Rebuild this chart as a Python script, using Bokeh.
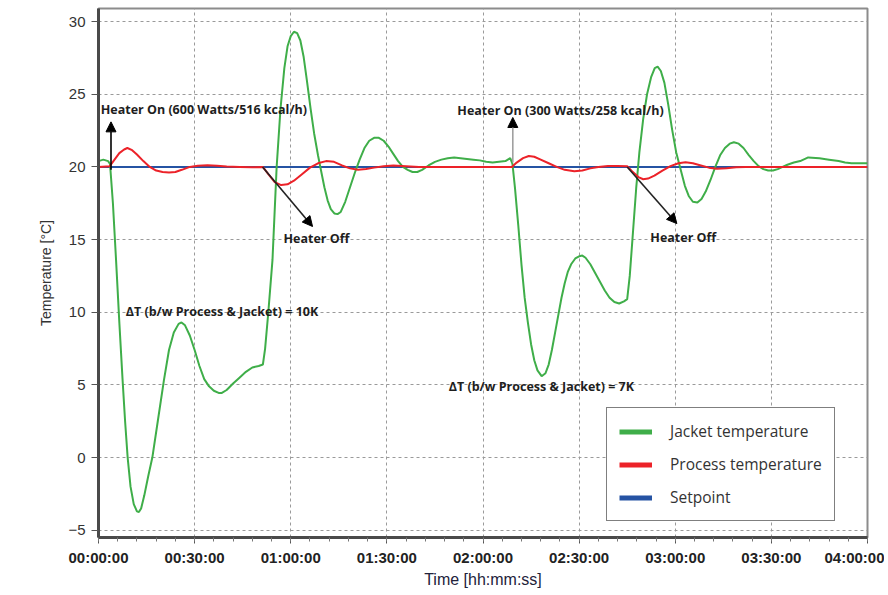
from bokeh.plotting import figure
from bokeh.models import (Range1d, FixedTicker, Arrow, NormalHead, Label, Legend, LegendItem)
from bokeh.embed import file_html
from bokeh.resources import INLINE

# ---------------- data (time in minutes, temperature in °C) ----------------
jacket_time = [0, 1.5, 3.0, 3.6, 4.5, 5.5, 6.5, 7.5, 8.3, 9.1, 10.0, 11.0, 12.0, 12.6, 13.3, 14.3,
               15.5, 16.8, 18.5, 20.4, 22.0, 23.5, 25.0, 25.9, 27.0, 28.5, 30.0, 31.5, 33.0, 34.5,
               36.0, 37.5, 38.5, 40.0, 42.0, 44.0, 46.0, 48.0, 50.0, 51.3, 52.0, 53.0, 54.3, 55.6,
               56.8, 58.0, 59.0, 60.0, 61.0, 62.0, 63.0, 64.0, 65.0, 66.2, 67.3, 68.5, 69.4, 70.5,
               71.5, 72.5, 73.6, 74.6, 75.6, 77.0, 78.5, 80.0, 81.5, 83.0, 84.5, 86.0, 87.5, 89.0,
               90.5, 92.0, 93.5, 95.0, 96.5, 98.0, 99.5, 101.0, 103.0, 105.0, 107.0, 109.0, 111.0,
               113.0, 115.0, 117.0, 119.0, 121.0, 123.0, 125.0, 127.0, 128.5, 129.2, 130.0, 131.0,
               132.0, 133.0, 134.0, 135.0, 136.0, 137.0, 138.3, 139.5, 140.5, 141.5, 142.5, 143.5,
               144.5, 145.5, 146.5, 147.5, 148.8, 150.0, 151.0, 152.0, 153.5, 155.0, 156.5, 158.0,
               159.5, 161.0, 162.5, 164.0, 165.0, 165.8, 166.8, 167.8, 168.8, 170.0, 171.2, 172.5,
               173.6, 174.5, 175.5, 176.6, 177.8, 179.0, 180.3, 181.7, 183.0, 184.2, 185.5, 186.9,
               188.2, 189.5, 191.0, 192.5, 194.0, 195.5, 197.0, 198.3, 199.8, 201.3, 203.0, 204.5,
               206.0, 207.5, 209.0, 210.5, 212.0, 213.5, 215.0, 217.0, 219.0, 221.5, 225.0, 228.0,
               231.0, 233.0, 235.0, 240.0]
jacket_temp = [20.4, 20.5, 20.4, 20.2, 17.5, 13.5, 9.3, 5.4, 2.5, 0.0, -2.0, -3.2, -3.7, -3.75, -3.5, -2.6,
               -1.3, 0.0, 2.5, 5.3, 7.4, 8.6, 9.2, 9.3, 9.1, 8.4, 7.4, 6.3, 5.4, 4.9,
               4.6, 4.45, 4.45, 4.65, 5.1, 5.5, 5.9, 6.2, 6.3, 6.4, 7.5, 10.0, 13.6, 20.0,
               24.0, 26.8, 28.3, 29.0, 29.3, 29.2, 28.7, 27.6, 26.0, 24.0, 22.3, 20.8, 19.8, 18.6,
               17.7, 17.1, 16.8, 16.75, 16.9, 17.6, 18.6, 19.6, 20.5, 21.3, 21.8, 22.0, 22.0, 21.8,
               21.4, 20.9, 20.4, 20.0, 19.8, 19.65, 19.65, 19.8, 20.1, 20.35, 20.5, 20.6, 20.65,
               20.6, 20.55, 20.5, 20.45, 20.35, 20.3, 20.35, 20.4, 20.6, 20.2, 18.5, 16.0,
               13.3, 11.0, 9.3, 7.8, 6.7, 6.0, 5.6, 5.8, 6.4, 7.4, 8.6, 9.8,
               11.0, 12.0, 12.8, 13.3, 13.7, 13.85, 13.9, 13.75, 13.3, 12.7, 12.1, 11.5,
               11.0, 10.7, 10.6, 10.75, 10.9, 12.5, 15.5, 18.5, 21.0, 23.3, 25.0, 26.2,
               26.8, 26.9, 26.6, 25.8, 24.3, 22.6, 21.0, 19.8, 18.7, 18.0, 17.6, 17.55,
               17.8, 18.3, 19.1, 20.0, 20.8, 21.3, 21.6, 21.7, 21.6, 21.3, 20.8, 20.4,
               20.05, 19.85, 19.75, 19.75, 19.85, 20.0, 20.15, 20.3, 20.4, 20.65, 20.6, 20.5,
               20.4, 20.3, 20.25, 20.25]

process_time = [0, 3.5, 5.0, 6.5, 8.0, 9.0, 10.5, 12.0, 14.0, 16.0, 18.0, 20.0, 22.0, 24.0, 26.0, 28.5,
                31.0, 34.0, 37.0, 40.0, 44.0, 48.0, 51.3, 53.0, 55.0, 57.0, 59.0, 61.0, 63.5, 66.0,
                68.5, 71.0, 73.5, 76.0, 78.5, 81.0, 83.5, 86.0, 89.0, 92.0, 96.0, 100.0, 110.0,
                120.0, 129.0, 130.5, 132.5, 134.3, 136.0, 138.0, 140.5, 143.0, 145.5, 148.5, 151.0,
                153.5, 156.0, 159.0, 162.0, 165.0, 166.5, 168.5, 170.0, 171.5, 173.5, 176.0, 178.5,
                181.0, 183.2, 185.5, 188.0, 190.5, 193.0, 196.0, 199.0, 202.0, 240.0]
process_temp = [20.0, 20.05, 20.5, 20.95, 21.2, 21.3, 21.15, 20.85, 20.4, 20.0, 19.75, 19.65, 19.62, 19.65, 19.8, 20.0,
                20.08, 20.12, 20.08, 20.02, 20.0, 19.97, 20.0, 19.5, 18.95, 18.75, 18.8, 19.05, 19.5, 19.95,
                20.25, 20.4, 20.35, 20.1, 19.9, 19.8, 19.85, 19.95, 20.05, 20.1, 20.05, 20.0, 20.0,
                20.0, 20.0, 20.3, 20.6, 20.75, 20.7, 20.5, 20.25, 20.0, 19.8, 19.7, 19.75,
                19.9, 20.0, 20.07, 20.07, 20.05, 19.7, 19.3, 19.15, 19.2, 19.4, 19.75, 20.05,
                20.25, 20.32, 20.25, 20.1, 19.95, 19.88, 19.9, 19.97, 20.0, 20.0]

setpoint_time = [0, 240]
setpoint_temp = [20, 20]

x_ticks = [0, 30, 60, 90, 120, 150, 180, 210, 240]
x_tick_labels = ["00:00:00", "00:30:00", "01:00:00", "01:30:00", "02:00:00",
                 "02:30:00", "03:00:00", "03:30:00", "04:00:00"]
x_minor_ticks = list(range(0, 241, 6))
y_ticks = [-5, 0, 5, 10, 15, 20, 25, 30]

series_names = ["Jacket temperature", "Process temperature", "Setpoint"]
series_colors = ["#3fae49", "#ec2229", "#2553a3"]

# annotation texts and anchor positions (data units)
note_texts = ["Heater On (600 Watts/516 kcal/h)", "Heater On (300 Watts/258 kcal/h)",
              "Heater Off", "Heater Off",
              "\u0394T (b/w Process & Jacket) = 10K", "\u0394T (b/w Process & Jacket) = 7K"]
note_x = [0.7, 112.0, 68.0, 182.5, 8.5, 109.3]
note_y = [23.95, 23.9, 15.1, 15.17, 10.05, 4.9]
note_align = ["left", "left", "center", "center", "left", "left"]

arrow_x0 = [3.9, 129.3, 51.2, 165.0]
arrow_y0 = [19.8, 20.3, 20.0, 20.0]
arrow_x1 = [3.9, 129.3, 66.8, 180.5]
arrow_y1 = [23.1, 23.4, 15.9, 16.1]
arrow_shaft = ["#000000", "#a0a0a0", "#222222", "#222222"]

# ---------------- figure ----------------
p = figure(width=884, height=590, output_backend="svg", toolbar_location=None,
           x_range=Range1d(0, 240), y_range=Range1d(-5.5, 30.9),
           min_border_left=98, min_border_right=17, min_border_top=8, min_border_bottom=52)
p.background_fill_color = "white"
p.border_fill_color = "white"
p.outline_line_color = "#8c8c8c"
p.outline_line_width = 2

p.xaxis.ticker = FixedTicker(ticks=x_ticks, minor_ticks=x_minor_ticks)
p.xaxis.major_label_overrides = {t: l for t, l in zip(x_ticks, x_tick_labels)}
p.yaxis.ticker = FixedTicker(ticks=y_ticks)

for ax in (p.xaxis[0], p.yaxis[0]):
    ax.axis_line_color = "#4a4a4a"
    ax.axis_line_width = 3
    ax.major_tick_line_color = "#555555"
    ax.minor_tick_line_color = "#777777"
    ax.major_tick_in = 0
    ax.minor_tick_in = 0
    ax.major_label_text_font = "Liberation Sans"
    ax.major_label_text_color = "#222222"
    ax.axis_label_text_font = "Liberation Sans"
    ax.axis_label_text_font_style = "normal"

p.xaxis.major_tick_out = 6
p.xaxis.minor_tick_out = 4
p.xaxis.major_label_text_font_size = "15px"
p.xaxis.major_label_text_font_style = "bold"
p.xaxis.major_label_standoff = 5
p.xaxis.axis_label = "Time [hh:mm:ss]"
p.xaxis.axis_label_text_font_size = "16px"
p.xaxis.axis_label_text_color = "#22223a"
p.xaxis.axis_label_standoff = 2

p.yaxis.major_tick_out = 7
p.yaxis.minor_tick_out = 0
p.yaxis.minor_tick_line_color = None
p.yaxis.major_label_text_font_size = "15px"
p.yaxis.major_label_text_color = "#333333"
p.yaxis.major_label_standoff = 6
p.yaxis.axis_label = "Temperature [\u00b0C]"
p.yaxis.axis_label_text_font_size = "14px"
p.yaxis.axis_label_text_color = "#333333"
p.yaxis.axis_label_standoff = 11

for g in (p.xgrid[0], p.ygrid[0]):
    g.grid_line_color = "#9a9a9a"
    g.grid_line_dash = "3 3"
    g.grid_line_width = 1
p.xgrid.ticker = FixedTicker(ticks=x_ticks)
p.ygrid.ticker = FixedTicker(ticks=y_ticks)

# ---------------- series ----------------
p.line(setpoint_time, setpoint_temp, line_color=series_colors[2], line_width=2)
p.line(jacket_time, jacket_temp, line_color=series_colors[0], line_width=2)
p.line(process_time, process_temp, line_color=series_colors[1], line_width=2)

# ---------------- arrows & notes ----------------
for x0, y0, x1, y1, sc in zip(arrow_x0, arrow_y0, arrow_x1, arrow_y1, arrow_shaft):
    p.add_layout(Arrow(end=NormalHead(size=10, fill_color="black", line_color="black", line_width=1),
                       x_start=x0, y_start=y0, x_end=x1, y_end=y1,
                       line_color=sc, line_width=1.6))

for txt, x, y, al in zip(note_texts, note_x, note_y, note_align):
    p.add_layout(Label(x=x, y=y, text=txt, text_align=al, text_baseline="middle",
                       text_font="Open Sans", text_font_style="bold", text_font_size="12.5px",
                       text_color="#1e1e1e"))

# ---------------- legend (thick swatches via legend-only renderers) ----------------
nan = float("nan")
dummies = [p.line([nan], [nan], line_color=c, line_width=5) for c in series_colors]
legend = Legend(items=[LegendItem(label=n, renderers=[r]) for n, r in zip(series_names, dummies)],
                location=(508, 16), margin=0, padding=12, spacing=11,
                glyph_width=33, glyph_height=19, label_height=19, label_width=140,
                label_standoff=18, border_line_color="black", border_line_width=1,
                background_fill_color="white", background_fill_alpha=1.0,
                label_text_font="Open Sans", label_text_font_size="15.5px",
                label_text_color="#333333")
p.add_layout(legend)

open("out.html", "w").write(file_html(p, INLINE))
